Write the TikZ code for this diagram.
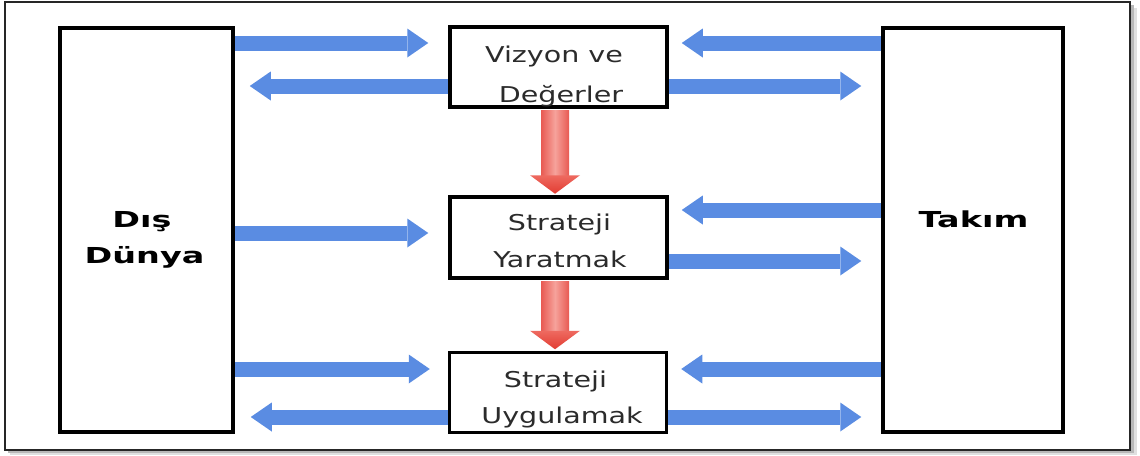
\documentclass[tikz,border=0pt]{standalone}
\usepackage{fontspec}
\setmainfont{DejaVu Sans}
\usetikzlibrary{arrows.meta,calc}

\definecolor{flowblue}{HTML}{5A8CE2}
\definecolor{rededge}{HTML}{E85A52}
\definecolor{redmid}{HTML}{F6A29B}
\definecolor{redtip}{HTML}{E23C32}
\definecolor{redtiptop}{HTML}{EE6A60}
\definecolor{inktext}{HTML}{2B2B2B}

% horizontally widened lettering
\newcommand\widetxt[1]{\scalebox{1.31}[1]{#1}}
\newcommand\widebold[1]{\scalebox{1.52}[1]{\bfseries #1}}

\begin{document}
\begin{tikzpicture}[x=1pt,y=-1pt,
  sidebox/.style={draw=black, line width=3.5pt, fill=white, inner sep=0pt,
                  minimum height=404pt},
  stagebox/.style={draw=black, line width=3.5pt, fill=white, inner sep=0pt,
                   minimum width=217pt, minimum height=80pt},
  txt/.style={text=inktext, font=\fontsize{21.8}{24}\selectfont,
              inner sep=0pt, anchor=base},
  boldtxt/.style={text=black, font=\fontsize{22}{24}\selectfont,
                  inner sep=0pt, anchor=base},
  flow/.style={draw=flowblue, line width=15pt,
               -{Triangle[length=21pt,width=29pt,line width=0pt]}},
]
\useasboundingbox (0,0) rectangle (1140,455);

% framed panel with a soft drop shadow
\fill[black!12] (10,8) rectangle (1137,455);
\fill[black!28] (8,5) rectangle (1134,453);
\draw[black!85, line width=2.5pt, fill=white] (5,2) rectangle (1130,450);

% row heights of the blue flows
\coordinate (r1) at (0,43);
\coordinate (r2) at (0,86);
\coordinate (r3) at (0,233);
\coordinate (r4) at (0,210);
\coordinate (r5) at (0,261);
\coordinate (r6) at (0,369);
\coordinate (r7) at (0,417);
\coordinate (c1) at (555,0);

% blocks
\node[sidebox, minimum width=173pt] (L) at (146.5,230) {};
\node[sidebox, minimum width=180pt] (R) at (973,230) {};
\node[stagebox] (V) at (558.5,67) {};
\node[stagebox, minimum height=81pt] (S) at (558.5,237.5) {};
\node[stagebox] (U) at (558,392.5) {};

% labels
\node[boldtxt] (Lt1) at (142,227) {\widebold{Dış}};
\node[boldtxt] (Lt2) at (144.5,263) {\widebold{Dünya}};
\node[boldtxt] (Rt) at (973.5,227) {\widebold{Takım}};
\node[txt] (Vt1) at (554,62) {\widetxt{Vizyon ve}};
\node[txt] (Vt2) at (561,102) {\widetxt{Değerler}};
\node[txt] (St1) at (559.5,230) {\widetxt{Strateji}};
\node[txt] (St2) at (560,267) {\widetxt{Yaratmak}};
\node[txt] (Ut1) at (555.5,387) {\widetxt{Strateji}};
\node[txt] (Ut2) at (562,423) {\widetxt{Uygulamak}};

% blue flows, outside world side
\draw[flow, shorten >=20pt] (L.east |- r1) -- (V.west |- r1);
\draw[flow, shorten >=15pt] (V.west |- r2) -- (L.east |- r2);
\draw[flow, shorten >=20pt] (L.east |- r3) -- (S.west |- r3);
\draw[flow, shorten >=18pt] (L.east |- r6) -- (U.west |- r6);
\draw[flow, shorten >=16pt] (U.west |- r7) -- (L.east |- r7);

% blue flows, team side
\draw[flow, shorten >=13pt] (R.west |- r1) -- (V.east |- r1);
\draw[flow, shorten >=20pt] (V.east |- r2) -- (R.west |- r2);
\draw[flow, shorten >=13pt] (R.west |- r4) -- (S.east |- r4);
\draw[flow, shorten >=20pt] (S.east |- r5) -- (R.west |- r5);
\draw[flow, shorten >=13pt] (R.west |- r6) -- (U.east |- r6);
\draw[flow, shorten >=20pt] (U.east |- r7) -- (R.west |- r7);

% red stage arrows
\shade[left color=rededge, right color=rededge, middle color=redmid]
  ($(V.south -| c1)+(-14,1.5)$) rectangle ($(S.north -| c1)+(14,-19)$);
\shade[top color=redtiptop, bottom color=redtip]
  ($(S.north -| c1)+(-25,-20)$) -- ($(S.north -| c1)+(25,-20)$)
  -- ($(S.north -| c1)+(0,-1.5)$) -- cycle;
\shade[left color=rededge, right color=rededge, middle color=redmid]
  ($(S.south -| c1)+(-14,1.5)$) rectangle ($(U.north -| c1)+(14,-19)$);
\shade[top color=redtiptop, bottom color=redtip]
  ($(U.north -| c1)+(-25,-20)$) -- ($(U.north -| c1)+(25,-20)$)
  -- ($(U.north -| c1)+(0,-1.5)$) -- cycle;
\end{tikzpicture}
\end{document}
